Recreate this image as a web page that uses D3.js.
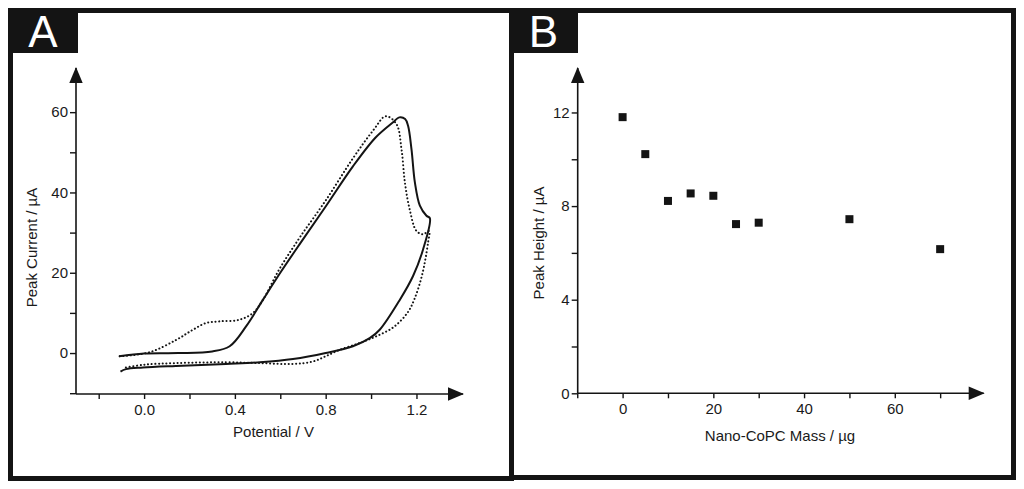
<!DOCTYPE html>
<html>
<head>
<meta charset="utf-8">
<script src="https://cdn.jsdelivr.net/npm/d3@7"></script>
<style>
  html, body { margin: 0; padding: 0; background: #fff; }
  svg { display: block; font-family: "Liberation Sans", Arial, sans-serif; }
  .tick text { font-size: 15px; fill: #1a1a1a; }
</style>
</head>
<body>
<svg id="fig" width="1024" height="489"></svg>
<script>
// panel A: cyclic voltammograms (potential V, current uA)
const solidV = [-0.11, 0.0, 0.15, 0.3, 0.377, 0.45, 0.524, 0.6, 0.69, 0.8, 0.92, 1.02, 1.097, 1.124, 1.15, 1.163, 1.178, 1.193, 1.215, 1.244, 1.259,
  1.229, 1.185, 1.127, 1.038, 0.994, 0.92, 0.8, 0.656, 0.51, 0.36, 0.14, -0.005, -0.08, -0.104];
const solidI = [-0.8, -0.1, 0, 0.4, 1.7, 6.7, 13.3, 20, 27.5, 36.5, 46.5, 53.7, 57.5, 58.7, 58.3, 56.6, 50.8, 42.5, 36.7, 34.2, 33.6,
  25.8, 19.2, 13.3, 5.8, 3.7, 1.7, 0, -1.5, -2.3, -2.7, -3.2, -3.6, -4.0, -4.6];
const dottedV = [-0.108, 0.024, 0.142, 0.215, 0.274, 0.333, 0.42, 0.48, 0.524, 0.597, 0.686, 0.8, 0.92, 1.01, 1.065, 1.112, 1.134, 1.149, 1.17, 1.2, 1.229, 1.256,
  1.251, 1.225, 1.19, 1.16, 1.1, 1.024, 0.95, 0.862, 0.8, 0.744, 0.656, 0.51, 0.36, 0.14, 0.0, -0.094];
const dottedI = [-0.8, 0.2, 3.3, 5.8, 7.5, 7.9, 8.3, 10, 13.3, 21, 28.8, 38, 48.5, 55.5, 59, 57, 50.8, 42.5, 35.8, 30.4, 29.6, 30.4,
  27.5, 19.5, 13.3, 10, 6.5, 4.2, 2.5, 0.8, -0.8, -2.1, -2.7, -2.5, -2.3, -2.5, -2.9, -3.75];
const potTicks = [-0.2, 0, 0.2, 0.4, 0.6, 0.8, 1.0, 1.2];
const potLabels = [0, 0.4, 0.8, 1.2];
const curTicks = [-10, 0, 10, 20, 30, 40, 50, 60];
const curLabels = [0, 20, 40, 60];

// panel B: peak height vs nano-CoPC mass
const massUg = [0, 5, 10, 15, 20, 25, 30, 50, 70];
const peakHeight = [11.8, 10.22, 8.22, 8.54, 8.44, 7.23, 7.29, 7.44, 6.16];
const massTicks = [-10, 0, 10, 20, 30, 40, 50, 60, 70];
const massLabels = [0, 20, 40, 60];
const heightTicks = [0, 2, 4, 6, 8, 10, 12];
const heightLabels = [0, 4, 8, 12];

const svg = d3.select("#fig");
const ink = "#141414";

function frame(x, y, w, h, letter, boxW) {
  svg.append("rect").attr("x", x).attr("y", y).attr("width", w).attr("height", h)
    .attr("fill", "none").attr("stroke", ink).attr("stroke-width", 5);
  svg.append("rect").attr("x", x - 2.5).attr("y", y - 2.5).attr("width", boxW).attr("height", 45)
    .attr("fill", ink);
  svg.append("text").attr("x", x - 2.5 + boxW / 2).attr("y", 46.5)
    .attr("text-anchor", "middle").attr("fill", "#fff")
    .style("font-size", "44px").text(letter);
}

function arrows(g, x0, y0, x1, y1) {
  g.append("path").attr("d", `M${x0},${y1 - 1} l-6.7,16 h13.4 z`).attr("fill", ink);
  g.append("path").attr("d", `M${x1 + 1},${y0} l-16,-6.7 v13.4 z`).attr("fill", ink);
}

function axes(g, x, y, xt, xl, yt, yl, xfmt, yfmt, xTitle, yTitle, xTitlePos, yTitlePos) {
  const xa = g.append("g").attr("transform", `translate(0,${y.range()[0]})`)
    .call(d3.axisBottom(x).tickValues(xt).tickSize(5).tickPadding(5)
      .tickFormat(d => xl.some(v => Math.abs(v - d) < 1e-9) ? xfmt(d) : ""));
  xa.select(".domain").attr("d", `M${x.range()[0]},0H${x.range()[1]}`);
  const ya = g.append("g").attr("transform", `translate(${x.range()[0]},0)`)
    .call(d3.axisLeft(y).tickValues(yt).tickSize(6).tickPadding(2)
      .tickFormat(d => yl.some(v => Math.abs(v - d) < 1e-9) ? yfmt(d) : ""));
  ya.select(".domain").attr("d", `M0,${y.range()[0]}V${y.range()[1]}`);
  g.selectAll(".domain").attr("stroke", ink).attr("stroke-width", 1.6);
  g.selectAll(".tick line").attr("stroke", ink).attr("stroke-width", 1.4);
  arrows(g, x.range()[0], y.range()[0], x.range()[1], y.range()[1]);
  g.append("text").attr("x", xTitlePos[0]).attr("y", xTitlePos[1])
    .attr("text-anchor", "middle").attr("fill", "#1a1a1a").style("font-size", "15px").text(xTitle);
  g.append("text").attr("transform", `translate(${yTitlePos[0]},${yTitlePos[1]}) rotate(-90)`)
    .attr("text-anchor", "middle").attr("fill", "#1a1a1a").style("font-size", "15px").text(yTitle);
}

// frames
frame(10.5, 10.5, 501, 468, "A", 70);
frame(511.5, 10.5, 502, 467, "B", 69);

// panel A
const xA = d3.scaleLinear().domain([-0.3, 1.405]).range([76, 463]);
const yA = d3.scaleLinear().domain([-10.2, 71]).range([394, 68]);
const gA = svg.append("g");
axes(gA, xA, yA, potTicks, potLabels, curTicks, curLabels, d3.format(".1f"), d3.format("d"),
  "Potential / V", "Peak Current / µA", [273.5, 437], [37, 247.5]);

const lineA = d3.line().x(d => xA(d[0])).y(d => yA(d[1])).curve(d3.curveCatmullRom.alpha(0.5));
gA.append("path").datum(d3.zip(dottedV, dottedI)).attr("d", lineA)
  .attr("fill", "none").attr("stroke", ink).attr("stroke-width", 2)
  .attr("stroke-dasharray", "0.1,3.6").attr("stroke-linecap", "round");
gA.append("path").datum(d3.zip(solidV, solidI)).attr("d", lineA)
  .attr("fill", "none").attr("stroke", ink).attr("stroke-width", 2);

// panel B
const xB = d3.scaleLinear().domain([-9.9, 79.6]).range([577.7, 983.7]);
const yB = d3.scaleLinear().domain([0, 13.9]).range([393.3, 68]);
const gB = svg.append("g");
axes(gB, xB, yB, massTicks, massLabels, heightTicks, heightLabels, d3.format("d"), d3.format("d"),
  "Nano-CoPC Mass / µg", "Peak Height / µA", [780, 441], [544, 243]);

gB.selectAll("rect.pt").data(d3.zip(massUg, peakHeight)).join("rect").attr("class", "pt")
  .attr("x", d => xB(d[0]) - 4).attr("y", d => yB(d[1]) - 4)
  .attr("width", 8).attr("height", 8).attr("fill", ink);
</script>
</body>
</html>
